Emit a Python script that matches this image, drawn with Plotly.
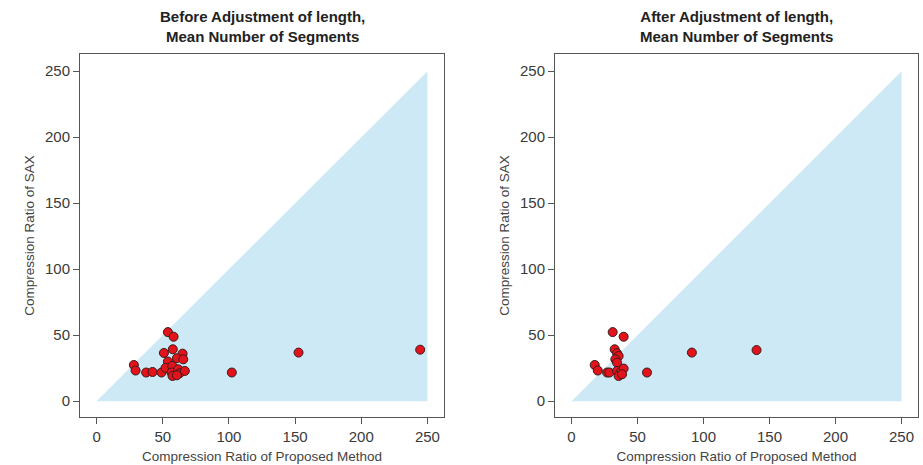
import plotly.graph_objects as go

# ---- data ----
titles = ["Before Adjustment of length,<br>Mean Number of Segments",
          "After Adjustment of length,<br>Mean Number of Segments"]
x_label = "Compression Ratio of Proposed Method"
y_label = "Compression Ratio of SAX"
tick_vals = [0, 50, 100, 150, 200, 250]
diag_max = 250

x_before = [53.9, 58.2, 57.6, 50.9, 65.0, 60.7, 65.5, 53.9, 28.2, 29.5, 37.5, 42.3,
            49.1, 52.1, 57.2, 56.6, 57.4, 61.7, 62.7, 66.7, 60.7, 102.2, 152.6, 244.5]
y_before = [52.3, 48.8, 39.3, 36.5, 36.0, 32.5, 31.7, 30.0, 27.4, 23.2, 21.7, 22.1,
            21.7, 25.2, 26.7, 21.7, 19.1, 24.2, 21.1, 22.9, 19.6, 21.7, 36.8, 39.0]

x_after = [31.2, 39.5, 32.7, 34.5, 35.7, 33.2, 34.5, 17.6, 19.9, 27.0, 28.7, 34.5,
           37.0, 39.5, 35.7, 38.3, 57.2, 91.2, 140.2]
y_after = [52.3, 48.8, 39.3, 36.3, 34.2, 31.7, 29.2, 27.4, 23.2, 21.7, 21.7, 22.9,
           21.7, 24.7, 19.1, 20.4, 21.7, 36.8, 38.7]

panels = [(x_before, y_before), (x_after, y_after)]

# ---- figure ----
fig = go.Figure()
W, H = 923, 465
x_domains = [[80 / W, 444 / W], [555 / W, 918 / W]]
y_domain = [(H - 417) / H, (H - 54) / H]
fill_col = "rgb(205,233,246)"
axis_col = "#555555"

for i, (xs, ys) in enumerate(panels):
    xa = "x" if i == 0 else "x2"
    ya = "y" if i == 0 else "y2"
    fig.add_trace(go.Scatter(
        x=[0, diag_max, diag_max, 0], y=[0, diag_max, 0, 0],
        mode="lines", fill="toself", fillcolor=fill_col,
        line=dict(width=0, color=fill_col), hoverinfo="skip",
        showlegend=False, xaxis=xa, yaxis=ya))
    fig.add_trace(go.Scatter(
        x=xs, y=ys, mode="markers",
        marker=dict(size=9, color="#E3131B", line=dict(color="#3a1a1a", width=1)),
        showlegend=False, xaxis=xa, yaxis=ya))

axis_common = dict(
    range=[-12.5, 262.5], tickvals=tick_vals, ticks="outside", ticklen=6,
    tickcolor=axis_col, showline=True, linecolor=axis_col, linewidth=1,
    mirror=True, showgrid=False, zeroline=False,
    tickfont=dict(family="Liberation Sans, Arial", size=15, color="#3a3a3a"),
)
ax_title_font = dict(family="Liberation Sans, Arial", size=13.5, color="#444444")

layout = dict(
    width=W, height=H, margin=dict(l=0, r=0, t=0, b=0),
    plot_bgcolor="white", paper_bgcolor="white",
)
for i in range(2):
    sx = "" if i == 0 else "2"
    layout["xaxis" + sx] = dict(axis_common, domain=x_domains[i], anchor="y" + sx,
                                title=dict(text=x_label, font=ax_title_font, standoff=7))
    layout["yaxis" + sx] = dict(axis_common, domain=y_domain, anchor="x" + sx,
                                range=[-12, 263],
                                title=dict(text=y_label, font=ax_title_font, standoff=7))
fig.update_layout(**layout)

for i in range(2):
    cx = (x_domains[i][0] + x_domains[i][1]) / 2
    fig.add_annotation(
        text="<b>" + titles[i].replace("<br>", "</b><br><b>") + "</b>",
        xref="paper", yref="paper", x=cx, y=1 - 6 / H, xanchor="center", yanchor="top",
        showarrow=False, align="center",
        font=dict(family="Liberation Sans, Arial", size=15, color="#222222"))

fig.write_html("out.html")
